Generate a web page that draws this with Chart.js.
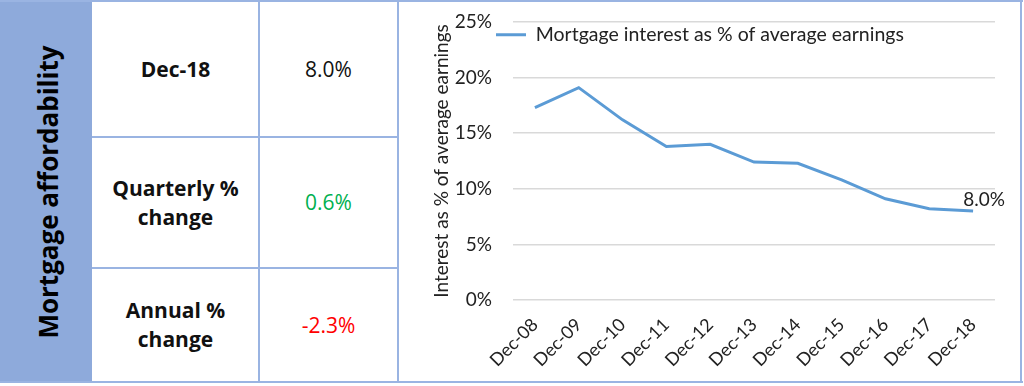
<!DOCTYPE html>
<html>
<head>
<meta charset="utf-8">
<script src="https://cdn.jsdelivr.net/npm/chart.js@4"></script>
<style>
	body { margin: 0; background: #fff; }
	#wrap { position: relative; width: 1024px; height: 386px; overflow: hidden; font-family: "Open Sans", sans-serif; color: #111; }
	.line { position: absolute; background: #9ab4e2; }
	.cell { position: absolute; display: flex; align-items: center; justify-content: center; text-align: center; font-size: 21px; line-height: 29px; }
	.bold { font-weight: 700; }
	#side { position: absolute; left: 0; top: 2px; width: 92px; height: 380px; background: #8eaadb; }
	#sideText { position: absolute; left: 48px; top: 192px; transform: translate(-50%, -50%) rotate(-90deg); white-space: nowrap; font-weight: 700; font-size: 26px; color: #000; }
	#box { position: absolute; left: 400px; top: 3px; width: 620px; height: 378px; }
</style>
</head>
<body>
<div id="wrap">
	<div id="side"></div>
	<div id="sideText">Mortgage affordability</div>

	<div class="cell bold" style="left:92px;top:2px;width:167px;height:135px;">Dec-18</div>
	<div class="cell" style="left:259px;top:2px;width:139px;height:135px;">8.0%</div>
	<div class="cell bold" style="left:92px;top:137px;width:167px;height:131px;">Quarterly %<br>change</div>
	<div class="cell" style="left:259px;top:137px;width:139px;height:131px;color:#00b050;">0.6%</div>
	<div class="cell bold" style="left:92px;top:268px;width:167px;height:114px;">Annual %<br>change</div>
	<div class="cell" style="left:259px;top:268px;width:139px;height:114px;color:#ff0000;">-2.3%</div>

	<div class="line" style="left:0;top:0;width:1023px;height:2px;"></div>
	<div class="line" style="left:0;top:381px;width:1023px;height:2px;"></div>
	<div class="line" style="left:258px;top:0;width:2px;height:383px;"></div>
	<div class="line" style="left:397px;top:0;width:2px;height:383px;"></div>
	<div class="line" style="left:1020px;top:0;width:2px;height:383px;"></div>
	<div class="line" style="left:92px;top:136px;width:306px;height:2px;"></div>
	<div class="line" style="left:92px;top:267px;width:306px;height:2px;"></div>

	<div id="box"><canvas id="chart"></canvas></div>
</div>
<script>
const labels = ["Dec-08", "Dec-09", "Dec-10", "Dec-11", "Dec-12", "Dec-13", "Dec-14", "Dec-15", "Dec-16", "Dec-17", "Dec-18"];
const interestShare = [17.3, 19.1, 16.2, 13.8, 14.0, 12.4, 12.3, 10.8, 9.1, 8.2, 8.0];
const seriesName = "Mortgage interest as % of average earnings";
const yTitle = "Interest as % of average earnings";

const font = "Lato";
const textColor = "#222";

// label on the last point, and put the legend over the top of the plot
const lastLabel = {
	id: "lastLabel",
	afterLayout(chart) {
		if (chart.legend) {
			chart.legend.left = 93;
			chart.legend.top = chart.chartArea.top;
		}
	},
	afterDatasetsDraw(chart) {
		let meta = chart.getDatasetMeta(0);
		let i = interestShare.length - 1;
		let pt = meta.data[i];
		let c = chart.ctx;
		c.save();
		c.font = "19px " + font;
		c.fillStyle = textColor;
		c.textAlign = "center";
		c.textBaseline = "bottom";
		c.fillText(interestShare[i].toFixed(1) + "%", pt.x + 11, pt.y - 2);
		c.restore();
	}
};

let ctx = document.getElementById("chart");
let data = {
	labels: labels,
	datasets: [{
		label: seriesName,
		data: interestShare,
		borderColor: "#5b9bd5",
		backgroundColor: "#5b9bd5",
		borderWidth: 3,
		pointRadius: 0,
		tension: 0
	}]
};
const config = {
	type: "line",
	data: data,
	plugins: [lastLabel],
	options: {
		responsive: true,
		maintainAspectRatio: false,
		animation: false,
		layout: {
			padding: { top: 19, right: 25, left: 0, bottom: 0 }
		},
		plugins: {
			legend: {
				position: "chartArea",
				fullSize: false,
				align: "start",
				labels: {
					usePointStyle: true,
					pointStyle: "line",
					pointStyleWidth: 30,
					padding: 3,
					color: textColor,
					font: { family: font, size: 19.5 }
				}
			},
			tooltip: { enabled: false }
		},
		scales: {
			x: {
				offset: true,
				grid: { display: false, drawTicks: false },
				border: { display: false },
				afterFit: s => { s.height = 81; },
				ticks: {
					minRotation: 45,
					maxRotation: 45,
					padding: 14,
					color: textColor,
					font: { family: font, size: 18 }
				}
			},
			y: {
				min: 0,
				max: 25,
				afterFit: s => {
					s.width = 113;
					s.paddingTop = 0;
					s.paddingBottom = 0;
				},
				grid: { color: "#d9d9d9", lineWidth: 1.5, drawTicks: false },
				border: { display: false },
				title: {
					display: true,
					text: yTitle,
					color: textColor,
					padding: { top: 30, bottom: 0 },
					font: { family: font, size: 19 }
				},
				ticks: {
					stepSize: 5,
					padding: 21,
					color: textColor,
					font: { family: font, size: 19 },
					callback: v => v + "%"
				}
			}
		}
	}
};
let chart = new Chart(ctx, config);
</script>
</body>
</html>
